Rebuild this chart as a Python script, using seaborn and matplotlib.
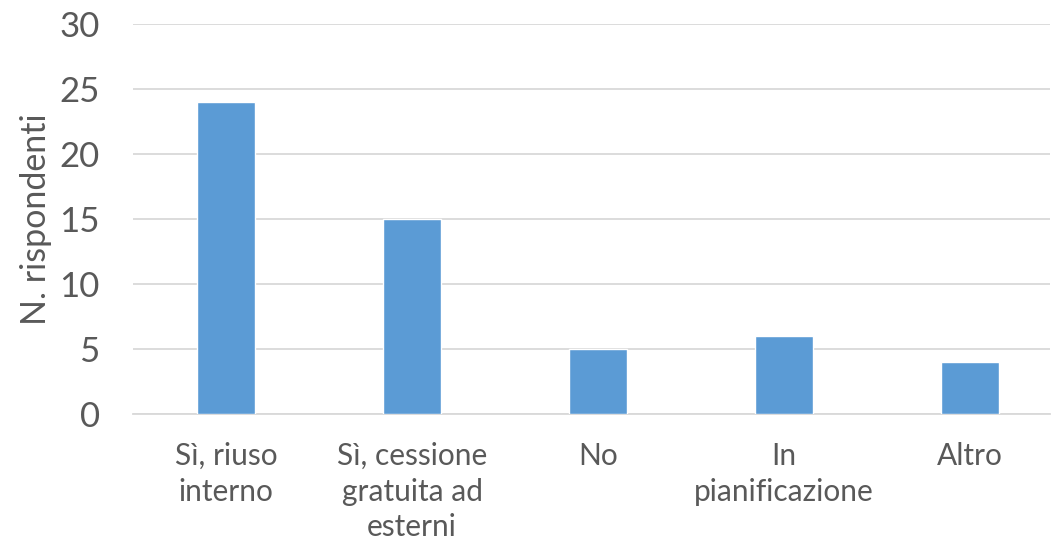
import matplotlib
matplotlib.use("Agg")
import matplotlib.pyplot as plt
import seaborn as sns
import pandas as pd

categories = ["Sì, riuso\ninterno", "Sì, cessione\ngratuita ad\nesterni", "No",
              "In\npianificazione", "Altro"]
values = [24, 15, 5, 6, 4]
y_ticks = [0, 5, 10, 15, 20, 25, 30]
y_label = "N. rispondenti"

sns.set_theme(style="white")
plt.rcParams["font.family"] = ["Lato", "DejaVu Sans"]

text_color = "#595959"
grid_color = "#D9D9D9"
bar_color = "#5B9BD5"

df = pd.DataFrame({"categoria": categories, "valore": values})

fig = plt.figure(figsize=(10.51, 5.45), dpi=100)
ax = fig.add_axes([133 / 1051, 131 / 545, 917 / 1051, 390 / 545])

sns.barplot(data=df, x="categoria", y="valore", color=bar_color,
            width=0.31, saturation=1, ax=ax, zorder=3)

ax.set_ylim(0, 30)
ax.set_yticks(y_ticks)
ax.set_xlim(-0.5, -0.5 + 917 / 186)
ax.yaxis.grid(True, color=grid_color, linewidth=1.3, zorder=0)
for side in ["left", "right", "top"]:
    ax.spines[side].set_visible(False)
ax.spines["bottom"].set_color(grid_color)
ax.spines["bottom"].set_linewidth(1.3)

ax.tick_params(axis="y", length=0, pad=24, labelsize=25, labelcolor=text_color)
ax.tick_params(axis="x", length=0, pad=20, labelsize=21.5, labelcolor=text_color)
for lbl in ax.get_xticklabels():
    lbl.set_linespacing(1.34)

ax.set_xlabel("")
ax.set_ylabel(y_label, fontsize=24.5, color=text_color, labelpad=5)

fig.savefig("out.png", dpi=100)
